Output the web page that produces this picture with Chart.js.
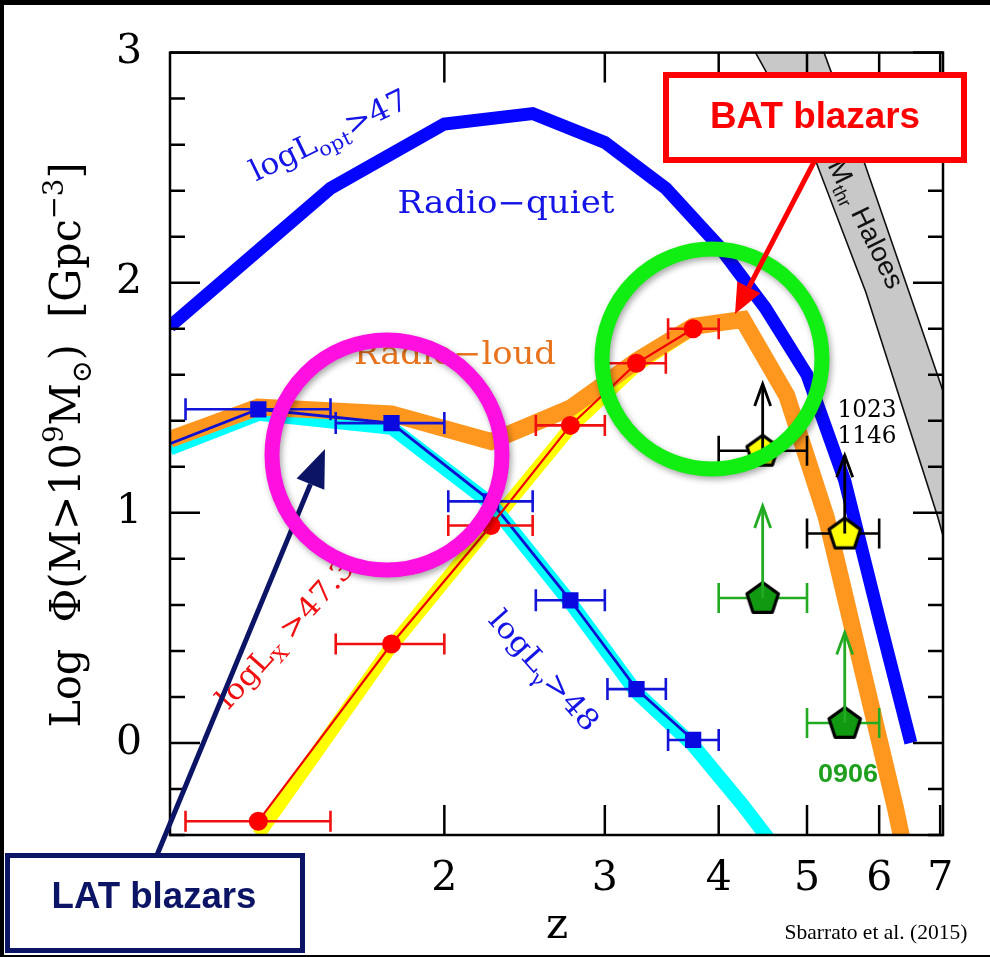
<!DOCTYPE html>
<html>
<head>
<meta charset="utf-8">
<script src="https://cdn.jsdelivr.net/npm/chart.js@4.4.1/dist/chart.umd.min.js"></script>
<style>
  html, body { margin: 0; padding: 0; background: #000; }
  #wrap { position: absolute; left: 0; top: 0; width: 990px; height: 957px; }
</style>
</head>
<body>
<div id="wrap"><canvas id="c" width="990" height="957"></canvas></div>
<script>
// axis ticks
const xTicks = [2, 3, 4, 5, 6, 7];
const yTicks = [0, 1, 2, 3];

// radio-quiet, logL_opt > 47 (thick blue)
const zOpt = [1, 1.5, 2, 2.5, 3, 3.5, 4, 4.5, 5, 5.5, 6, 6.5];
const phiOpt = [1.81, 2.41, 2.69, 2.735, 2.61, 2.41, 2.16, 1.89, 1.60, 1.14, 0.54, 0.0];

// radio-loud (thick orange)
const zRL = [1, 1.25, 1.75, 2.25, 2.75, 3.25, 3.75, 4.25, 4.75, 5.25, 5.75, 6.25, 6.5];
const phiRL = [1.32, 1.46, 1.43, 1.31, 1.455, 1.66, 1.81, 1.84, 1.51, 0.98, 0.32, -0.28, -0.6];

// gamma-ray model (thick cyan)
const zGamModel = [1, 1.25, 1.75, 2.25, 2.75, 3.25, 3.75, 4.25, 4.75];
const phiGamModel = [1.28, 1.43, 1.37, 1.04, 0.61, 0.22, -0.01, -0.27, -0.52];

// X-ray model (thick yellow)
const zXModel = [1.25, 1.75, 2.25, 2.75, 3.25, 3.75];
const phiXModel = [-0.40, 0.42, 0.95, 1.37, 1.64, 1.80];

// binned points
const zBin = [1.25, 1.75, 2.25, 2.75, 3.25, 3.75];
const zBinLo = [1.04, 1.52, 2.02, 2.52, 3.02, 3.52];
const zBinHi = [1.5, 2, 2.5, 3, 3.5, 4];
const phiX = [-0.34, 0.43, 0.945, 1.38, 1.65, 1.80];      // BAT, red
const phiGam = [1.45, 1.39, 1.05, 0.62, 0.234, 0.013];    // LAT, blue
const zGamLine = [1, 1.25, 1.75, 2.25, 2.75, 3.25, 3.75];
const phiGamLine = [1.30, 1.45, 1.39, 1.05, 0.62, 0.234, 0.013];

// high-z sources (pentagons, lower limits)
const zHz = [4.47, 5.5];
const zHzLo = [4, 5];
const zHzHi = [5, 6];
const phiYel = [1.27, 0.91];
const phiYelUp = [1.56, 1.25];
const phiGrn = [0.63, 0.087];
const phiGrnUp = [1.03, 0.48];

// M_thr haloes band edges
const zHaloL = [4.39, 5.11, 5.80, 6.96, 7.05];
const phiHaloL = [3.0, 2.53, 1.96, 0.98, 0.90];
const zHaloR = [7.05, 6.47, 5.77, 5.22];
const phiHaloR = [1.53, 1.96, 2.53, 3.0];

const pts = (xs, ys) => xs.map((x, i) => ({ x: x, y: ys[i] }));

function pentagon(fill) {
  const c = document.createElement('canvas');
  c.width = 40; c.height = 40;
  const g = c.getContext('2d');
  g.beginPath();
  for (let i = 0; i < 5; i++) {
    const a = -Math.PI / 2 + i * 2 * Math.PI / 5;
    const px = 20 + 16.5 * Math.cos(a), py = 21 + 16.5 * Math.sin(a);
    if (i) g.lineTo(px, py); else g.moveTo(px, py);
  }
  g.closePath();
  g.fillStyle = fill; g.fill();
  g.lineWidth = 3.2; g.lineJoin = 'round'; g.strokeStyle = '#000'; g.stroke();
  return c;
}

// text with sub (1) / superscript (2) parts, cx,cy = baseline middle
function rich(ctx, parts, cx, cy, angle, size, family, color, width, weight) {
  ctx.save();
  ctx.translate(cx, cy);
  ctx.rotate(angle * Math.PI / 180);
  const fontOf = m => (weight || 'normal') + ' ' + (m ? Math.round(size * 0.66) : size) + 'px ' + family;
  let total = 0;
  const ws = parts.map(([t, m]) => { ctx.font = fontOf(m); const w = ctx.measureText(t).width; total += w; return w; });
  if (width) ctx.scale(width / total, 1);
  ctx.fillStyle = color;
  ctx.textBaseline = 'alphabetic';
  ctx.textAlign = 'left';
  let x = -total / 2;
  parts.forEach(([t, m], i) => {
    ctx.font = fontOf(m);
    const dy = m === 1 ? size * 0.25 : m === 2 ? -size * 0.4 : 0;
    ctx.fillText(t, x, dy);
    x += ws[i];
  });
  ctx.restore();
}

function arrow(ctx, x1, y1, x2, y2, color, lw, hl, hw, filled) {
  const a = Math.atan2(y2 - y1, x2 - x1);
  const bx = x2 - hl * Math.cos(a), by = y2 - hl * Math.sin(a);
  ctx.save();
  ctx.strokeStyle = color; ctx.fillStyle = color; ctx.lineWidth = lw;
  ctx.beginPath();
  ctx.moveTo(x1, y1);
  ctx.lineTo(filled ? bx : x2, filled ? by : y2);
  ctx.stroke();
  ctx.beginPath();
  ctx.moveTo(bx + hw / 2 * Math.sin(a), by - hw / 2 * Math.cos(a));
  ctx.lineTo(x2, y2);
  ctx.lineTo(bx - hw / 2 * Math.sin(a), by + hw / 2 * Math.cos(a));
  if (filled) { ctx.closePath(); ctx.fill(); } else { ctx.stroke(); }
  ctx.restore();
}

// white slide area
const bgPlugin = {
  id: 'bg',
  beforeDraw(chart) {
    const ctx = chart.ctx;
    ctx.save();
    ctx.fillStyle = '#000';
    ctx.fillRect(0, 0, 990, 957);
    ctx.fillStyle = '#fff';
    ctx.fillRect(4, 5, 986, 950);
    ctx.restore();
  },
  beforeDatasetsDraw(chart) {
    // haloes band
    const { ctx, chartArea: a, scales: { x, y } } = chart;
    ctx.save();
    ctx.beginPath();
    ctx.rect(a.left, a.top, a.right - a.left, a.bottom - a.top);
    ctx.clip();
    ctx.beginPath();
    zHaloL.forEach((z, i) => ctx.lineTo(x.getPixelForValue(z), y.getPixelForValue(phiHaloL[i])));
    zHaloR.forEach((z, i) => ctx.lineTo(x.getPixelForValue(z), y.getPixelForValue(phiHaloR[i])));
    ctx.closePath();
    ctx.fillStyle = '#c8c8c8';
    ctx.fill();
    ctx.strokeStyle = '#111';
    ctx.lineWidth = 1.6;
    [[zHaloL, phiHaloL], [zHaloR, phiHaloR]].forEach(([zs, ps]) => {
      ctx.beginPath();
      zs.forEach((z, i) => ctx.lineTo(x.getPixelForValue(z), y.getPixelForValue(ps[i])));
      ctx.stroke();
    });
    ctx.restore();
  }
};

// error bars before the markers, upper-limit arrows after
const errPlugin = {
  id: 'err',
  beforeDatasetDraw(chart, args) {
    const ds = chart.data.datasets[args.index];
    if (!ds.errLo) return;
    const { ctx, scales: { x, y } } = chart;
    ctx.save();
    ctx.strokeStyle = ds.errColor;
    ctx.lineWidth = 2.6;
    ds.data.forEach((p, i) => {
      const py = y.getPixelForValue(p.y);
      const x1 = x.getPixelForValue(ds.errLo[i]), x2 = x.getPixelForValue(ds.errHi[i]);
      const h = ds.capH / 2;
      ctx.beginPath();
      ctx.moveTo(x1, py); ctx.lineTo(x2, py);
      ctx.moveTo(x1, py - h); ctx.lineTo(x1, py + h);
      ctx.moveTo(x2, py - h); ctx.lineTo(x2, py + h);
      ctx.stroke();
    });
    ctx.restore();
  },
  afterDatasetDraw(chart, args) {
    const ds = chart.data.datasets[args.index];
    if (!ds.upTo) return;
    const { ctx, scales: { x, y } } = chart;
    ds.data.forEach((p, i) => {
      const px = x.getPixelForValue(p.x);
      arrow(ctx, px, y.getPixelForValue(p.y), px, y.getPixelForValue(ds.upTo[i]), ds.errColor, 2.8, 22, 16, false);
    });
  }
};

const framePlugin = {
  id: 'frame',
  afterDatasetsDraw(chart) {
    const { ctx, chartArea: a, scales: { x, y } } = chart;
    // labels inside the plot
    rich(ctx, [['log', 0], ['L', 0], ['opt', 1], ['>47', 0]], 333, 144, -26, 30, 'DejaVu Serif', '#1414e6', 172);
    rich(ctx, [['Radio\u2212quiet', 0]], 506, 213, 0, 31, 'DejaVu Serif', '#1414e6', 217);
    rich(ctx, [['Radio\u2212loud', 0]], 455, 364, 0, 31, 'DejaVu Serif', '#e8731c', 202);
    rich(ctx, [['log', 0], ['L', 0], ['X', 1], [' >47.3', 0]], 292, 640, -48, 29, 'DejaVu Serif', '#f01010', 190);
    rich(ctx, [['log', 0], ['L', 0], ['\u03b3', 1], ['>48', 0]], 537, 677, 48.5, 29, 'DejaVu Serif', '#1414e6', 150);
    rich(ctx, [['M', 0], ['thr', 1], [' Haloes', 0]], 858, 228, 64, 27, 'Liberation Sans', '#111', 140);
    rich(ctx, [['1023', 0]], 867, 417, 0, 25, 'DejaVu Serif', '#000', 59);
    rich(ctx, [['1146', 0]], 867, 443, 0, 25, 'DejaVu Serif', '#000', 59);
    rich(ctx, [['0906', 0]], 848, 782, 0, 25, 'Liberation Sans', '#1ea01e', 60, 'bold');

    // frame and inward ticks
    ctx.save();
    ctx.strokeStyle = '#000';
    ctx.lineWidth = 2.5;
    ctx.strokeRect(a.left, a.top, a.right - a.left, a.bottom - a.top);
    ctx.beginPath();
    xTicks.forEach(v => {
      const px = x.getPixelForValue(v);
      ctx.moveTo(px, a.bottom); ctx.lineTo(px, a.bottom - 30);
      ctx.moveTo(px, a.top); ctx.lineTo(px, a.top + 30);
    });
    for (let k = -2; k <= 15; k++) {
      const v = k / 5;
      const py = y.getPixelForValue(v);
      const len = k % 5 === 0 ? 30 : 15;
      ctx.moveTo(a.left, py); ctx.lineTo(a.left + len, py);
      ctx.moveTo(a.right, py); ctx.lineTo(a.right - len, py);
    }
    ctx.stroke();
    ctx.restore();

    // axis titles
    rich(ctx, [['Log  \u03a6(M>10', 0], ['9', 2], ['M', 0], ['\u2299', 1], [')  [Gpc', 0], ['\u22123', 2], [']', 0]],
      80, 445, -90, 42, 'DejaVu Serif', '#000', 565);
    rich(ctx, [['z', 0]], 557, 938, 0, 42, 'DejaVu Serif', '#000');
    rich(ctx, [['Sbarrato et al. (2015)', 0]], 876, 939, 0, 21, 'Liberation Serif', '#000', 183);
  },
  afterDraw(chart) {
    const ctx = chart.ctx;
    // navy arrow runs under the magenta ring
    arrow(ctx, 157, 855, 325, 449, '#0c1466', 5, 38, 30, true);
    ctx.save();
    ctx.shadowColor = 'rgba(0,0,0,0.35)';
    ctx.shadowBlur = 6; ctx.shadowOffsetX = 2; ctx.shadowOffsetY = 3;
    ctx.lineWidth = 15;
    ctx.strokeStyle = '#ff10e0';
    ctx.beginPath(); ctx.arc(387, 455, 115, 0, 2 * Math.PI); ctx.stroke();
    ctx.strokeStyle = '#11ee11';
    ctx.beginPath(); ctx.arc(712, 359, 110, 0, 2 * Math.PI); ctx.stroke();
    ctx.restore();
    arrow(ctx, 815, 160, 735, 314, '#ff0000', 5, 30, 26, true);
    // label boxes
    ctx.save();
    ctx.fillStyle = '#fff';
    ctx.lineWidth = 6;
    ctx.strokeStyle = '#ff0000';
    ctx.fillRect(666, 75, 298, 85);
    ctx.strokeRect(666, 75, 298, 85);
    ctx.lineWidth = 5;
    ctx.strokeStyle = '#0c1466';
    ctx.fillRect(7.5, 855.5, 295, 95);
    ctx.strokeRect(7.5, 855.5, 295, 95);
    ctx.restore();
    rich(ctx, [['BAT blazars', 0]], 815, 128, 0, 36, 'Liberation Sans', '#ff0000', 210, 'bold');
    rich(ctx, [['LAT blazars', 0]], 154, 908, 0, 36, 'Liberation Sans', '#0c1466', 205, 'bold');
  }
};

const thick = (data, color, w, order) => ({
  data: data, showLine: true, borderColor: color, borderWidth: w,
  pointRadius: 0, clip: 0, order: order
});

new Chart(document.getElementById('c'), {
  type: 'scatter',
  data: {
    datasets: [
      thick(pts(zOpt, phiOpt), '#0505ff', 13, 10),
      thick(pts(zXModel, phiXModel), '#ffff00', 13, 9),
      thick(pts(zGamModel, phiGamModel), '#00ffff', 14, 8),
      thick(pts(zRL, phiRL), '#ff961e', 17, 7),
      thick(pts(zBin, phiX), '#f00000', 2.2, 6),
      thick(pts(zGamLine, phiGamLine), '#1010d0', 2.8, 6),
      {
        data: pts(zBin, phiX), pointStyle: 'circle', pointRadius: 9.5,
        backgroundColor: '#ff0000', borderWidth: 0, clip: 0, order: 4,
        errLo: zBinLo, errHi: zBinHi, errColor: '#f01010', capH: 21
      },
      {
        data: pts(zBin, phiGam), pointStyle: 'rect', pointRadius: 11.5,
        backgroundColor: '#0a0ae0', borderWidth: 0, clip: 0, order: 4,
        errLo: zBinLo, errHi: zBinHi, errColor: '#1414d8', capH: 22
      },
      {
        data: pts(zHz, phiYel), pointStyle: pentagon('#ffff00'), clip: 0, order: 2,
        errLo: zHzLo, errHi: zHzHi, errColor: '#000', capH: 30, upTo: phiYelUp
      },
      {
        data: pts(zHz, phiGrn), pointStyle: pentagon('#119a11'), clip: 0, order: 2,
        errLo: zHzLo, errHi: zHzHi, errColor: '#22aa22', capH: 30, upTo: phiGrnUp
      }
    ]
  },
  options: {
    responsive: false,
    animation: false,
    events: [],
    layout: { padding: { top: 51, right: 47, left: 0, bottom: 0 } },
    plugins: { legend: { display: false }, tooltip: { enabled: false } },
    scales: {
      x: {
        type: 'logarithmic', min: 1, max: 7.05,
        grid: { display: false, drawTicks: false }, border: { display: false },
        afterBuildTicks: s => { s.ticks = xTicks.map(v => ({ value: v })); },
        afterFit: s => { s.height = 122; },
        ticks: {
          callback: v => String(v), autoSkip: false, maxRotation: 0,
          font: { family: 'DejaVu Serif', size: 41 }, color: '#000', padding: 20
        }
      },
      y: {
        min: -0.4, max: 3,
        grid: { display: false, drawTicks: false }, border: { display: false },
        afterBuildTicks: s => { s.ticks = yTicks.map(v => ({ value: v })); },
        afterFit: s => { s.width = 170; },
        ticks: {
          callback: v => String(v),
          font: { family: 'DejaVu Serif', size: 41 }, color: '#000', padding: 28
        }
      }
    }
  },
  plugins: [bgPlugin, errPlugin, framePlugin]
});
</script>
</body>
</html>
